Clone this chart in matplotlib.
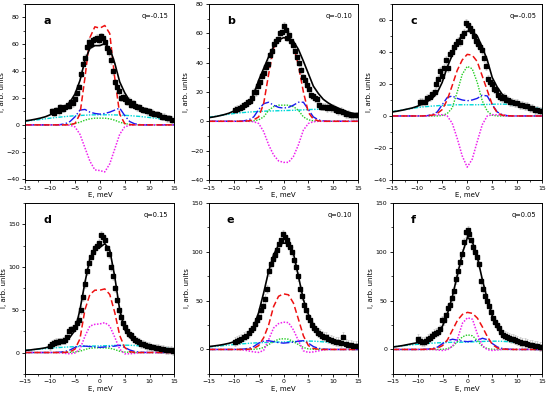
import numpy as np
import matplotlib.pyplot as plt
from matplotlib.ticker import AutoMinorLocator

# energy grid for the fitted curves (meV)
E = list(range(-15, 16))

# ---- panel a, q=-0.15
pts_x_a = [-9.7, -9.3, -8.8, -8.3, -8.0, -7.5, -7.0, -6.5, -6.2, -5.8, -5.4, -5.0, -4.6, -4.2, -3.8, -3.4, -3.0, -2.6,
           -2.2, -1.8, -1.4, -1.0, -0.6, -0.2, 0.2, 0.6, 1.0, 1.4, 1.8, 2.2, 2.6, 3.0, 3.4, 3.8, 4.2, 4.6, 5.0, 5.4,
           5.8, 6.2, 6.6, 7.0, 7.4, 7.8, 8.2, 8.6, 9.0, 9.4, 9.8, 10.2, 10.6, 11.0, 11.5, 12.0, 12.5, 13.0, 13.5,
           14.0, 14.5]
pts_y_a = [10, 9, 11, 10, 13, 12, 13, 15, 14, 17, 16, 19, 24, 28, 38, 45, 50, 58,
           62, 60, 63, 64, 65, 63, 66, 65, 62, 57, 54, 48, 40, 32, 28, 25, 20, 21, 19, 17,
           18, 15, 16, 14, 13, 13, 12, 11, 11, 10, 10, 9, 9, 8, 8, 7, 6, 6, 5,
           5, 4]
total_a = [3, 3.5, 4.2, 5, 6, 7.5, 9, 11, 13.5, 17, 23, 33, 48, 57, 59, 59, 60.5, 57, 46, 32, 24, 18, 14.5, 12, 10,
           8.5, 7, 6, 5, 4.5, 4]
red_a = [0, 0, 0, 0, 0, 0, 0, 0, 0, 0.2, 1, 8, 35, 65, 73, 72, 74, 68, 35, 8, 1, 0.2, 0, 0, 0, 0, 0, 0, 0, 0, 0]
blue_a = [0, 0, 0, 0, 0, 0, 0, 0.2, 0.8, 2.5, 6, 11, 11.5, 9.5, 8.5, 8, 8.5, 9.5, 11, 12.5, 7, 2.5, 0.8, 0.2, 0, 0,
          0, 0, 0, 0, 0]
green_a = [0, 0, 0, 0, 0, 0, 0, 0, 0.1, 0.4, 1, 2, 3.5, 4.5, 5, 5, 5, 4.5, 3.5, 2, 1, 0.4, 0.1, 0, 0, 0, 0, 0, 0, 0, 0]
cyan_a = [2.8, 3.2, 3.6, 4, 4.5, 5, 5.4, 5.8, 6.2, 6.5, 6.8, 7, 7.2, 7.4, 7.5, 7.5, 7.5, 7.5, 7.4, 7.3, 7.1, 6.9,
          6.6, 6.3, 5.9, 5.5, 5, 4.6, 4.2, 3.8, 3.5]
magenta_a = [0, 0, 0, 0, 0, 0, 0, 0, 0, -0.3, -1.5, -7, -17, -27, -33.5, -34, -35, -29, -18, -7, -1.5, -0.3, 0, 0,
             0, 0, 0, 0, 0, 0, 0]

# ---- panel b, q=-0.10
pts_x_b = [-9.7, -9.3, -8.8, -8.4, -8.0, -7.6, -7.2, -6.8, -6.4, -6.0, -5.6, -5.2, -4.8, -4.4, -4.0, -3.6, -3.2, -2.8,
           -2.4, -2.0, -1.6, -1.2, -0.8, -0.4, 0.0, 0.4, 0.8, 1.2, 1.6, 2.0, 2.4, 2.8, 3.2, 3.6, 4.0, 4.4, 4.8, 5.2,
           5.6, 6.0, 6.4, 6.8, 7.2, 7.6, 8.0, 8.4, 8.8, 9.2, 9.6, 10.0, 10.5, 11.0, 11.5, 12.0, 12.5, 13.0, 13.5,
           14.0, 14.5, 15.0]
pts_y_b = [8, 8.5, 9, 10, 11, 12, 13, 14, 16, 20, 20, 24, 27, 31, 33, 37, 39, 45,
           48, 53, 55, 56, 60, 61, 65, 62, 57, 59, 55, 52, 48, 44, 40, 35, 30, 28, 25, 22,
           18, 17, 16, 15, 11, 10, 10, 10, 9, 10, 9, 9, 8, 7, 7, 6, 5, 5, 4,
           4, 4, 4]
total_b = [2.5, 3, 3.7, 4.5, 5.5, 7, 8, 9.5, 13, 18.5, 28, 36, 44, 51, 55.5, 57, 57, 54.5, 49, 41, 32.5, 24, 19, 15,
           12.5, 10.5, 9, 7.5, 6.3, 5.3, 4.5]
red_b = [0, 0, 0, 0, 0, 0, 0, 0, 0.3, 1, 3, 12, 32, 50, 56, 57, 56.5, 52, 38, 20, 6, 1.5, 0.3, 0, 0, 0, 0, 0, 0, 0, 0]
blue_b = [0, 0, 0, 0, 0, 0, 0, 0.3, 1, 3, 8, 12, 13, 11, 9.5, 9, 9.5, 11, 13, 13, 8, 3, 1, 0.3, 0, 0, 0, 0, 0, 0, 0]
green_b = [0, 0, 0, 0, 0, 0, 0, 0, 0, 0.3, 1, 3, 7.5, 10, 11, 11, 11, 10, 7.5, 3, 1, 0.3, 0, 0, 0, 0, 0, 0, 0, 0, 0]
cyan_b = [2.8, 3.3, 3.8, 4.3, 4.8, 5.3, 5.7, 6, 6.3, 6.5, 6.7, 6.9, 7, 7.1, 7.2, 7.3, 7.4, 7.5, 7.6, 7.8, 8, 8.1,
          8.2, 8.2, 8, 7.6, 7, 6.4, 5.8, 5.2, 4.6]
magenta_b = [0, 0, 0, 0, 0, 0, 0, 0, 0, -0.3, -1.5, -7, -16, -23, -27, -28, -28, -24, -16, -6, -1.5, -0.3, 0, 0, 0,
             0, 0, 0, 0, 0, 0]

# ---- panel c, q=-0.05
pts_x_c = [-9.5, -9.0, -8.5, -8.0, -7.5, -7.0, -6.5, -6.2, -5.8, -5.4, -5.0, -4.6, -4.2, -3.8, -3.4, -3.0, -2.6, -2.2,
           -1.8, -1.4, -1.0, -0.6, -0.2, 0.2, 0.6, 1.0, 1.4, 1.8, 2.2, 2.6, 3.0, 3.4, 3.8, 4.2, 4.6, 5.0, 5.4, 5.8,
           6.2, 6.6, 7.0, 7.4, 7.8, 8.2, 8.6, 9.0, 9.5, 10.0, 10.5, 11.0, 11.5, 12.0, 12.5, 13.0, 13.5, 14.0, 14.5,
           15.0]
pts_y_c = [9, 8.5, 9, 11, 12, 14, 15, 20, 23, 28, 25, 30, 35, 30, 39, 40, 43, 45,
           47, 46, 50, 52, 58, 57, 55, 53, 50, 47, 45, 43, 41, 36, 31, 23, 21, 20, 17, 16,
           13, 12, 11, 12, 10, 10, 9, 9, 8, 8, 7, 7, 6, 6, 5, 5, 4, 4, 3,
           3]
total_c = [2.5, 3, 3.6, 4.3, 5, 6, 7.5, 9, 11, 14.5, 21, 30.5, 38, 45.5, 51, 53, 52.5, 50, 43, 35, 24, 18, 13.5, 11,
           9.5, 8, 7, 6, 5, 4, 3]
red_c = [0, 0, 0, 0, 0, 0, 0, 0.2, 0.5, 1.5, 4, 10, 19, 28.5, 35, 38.5, 38, 34, 25, 16, 7, 2, 0.5, 0.2, 0, 0, 0, 0,
         0, 0, 0]
blue_c = [0, 0, 0, 0, 0, 0, 0, 0.2, 0.8, 2.5, 7, 11.5, 12.5, 11, 10, 9.5, 10, 11, 13, 12.5, 7, 2.5, 0.8, 0.2, 0, 0,
          0, 0, 0, 0, 0]
green_c = [0, 0, 0, 0, 0, 0, 0, 0, 0, 0, 0.3, 1.5, 5, 15, 26, 31, 29.5, 21, 9.5, 3, 0.5, 0, 0, 0, 0, 0, 0, 0, 0, 0, 0]
cyan_c = [2.7, 3.2, 3.7, 4.2, 4.7, 5.2, 5.6, 5.9, 6.2, 6.4, 6.6, 6.8, 6.9, 7, 7, 7, 7, 7, 7.1, 7.2, 7.3, 7.4, 7.4,
          7.3, 7.1, 6.8, 6.4, 5.9, 5.3, 4.8, 4.2]
magenta_c = [0, 0, 0, 0, 0, 0, 0, 0, 0.3, 0.7, 0.8, 0, -4.5, -14, -25, -32, -27, -16, -5.5, 0, 0.8, 0.7, 0.3, 0, 0,
             0, 0, 0, 0, 0, 0]

# ---- panel d, q=0.15
pts_x_d = [-10.0, -9.6, -9.2, -8.8, -8.4, -8.0, -7.5, -7.0, -6.6, -6.2, -5.8, -5.4, -5.0, -4.6, -4.2, -3.8, -3.4, -3.0,
           -2.6, -2.2, -1.8, -1.4, -1.0, -0.6, -0.2, 0.2, 0.6, 1.0, 1.4, 1.8, 2.2, 2.6, 3.0, 3.4, 3.8, 4.2, 4.6,
           5.0, 5.4, 5.8, 6.2, 6.6, 7.0, 7.4, 7.8, 8.2, 8.6, 9.0, 9.4, 9.8, 10.3, 10.8, 11.3, 11.8, 12.3, 12.8,
           13.3, 13.8, 14.3, 14.8]
pts_y_d = [8, 10, 11, 12, 12, 13, 14, 15, 18, 25, 27, 28, 30, 34, 38, 50, 65, 80,
           95, 105, 112, 118, 122, 125, 128, 138, 135, 132, 122, 115, 100, 90, 75, 62, 50, 42, 35,
           30, 25, 22, 20, 17, 15, 14, 12, 10, 10, 9, 8, 8, 6, 6, 5, 5, 4, 4,
           3, 3, 3, 2]
total_d = [2.5, 3, 3.8, 4.5, 5.5, 7, 8.5, 10.5, 13, 18, 26, 50, 82, 110, 122, 123, 127.5, 120, 89, 50, 27, 18, 13,
           10.5, 9, 7.5, 6.5, 5.5, 4.5, 3.5, 3]
red_d = [0, 0, 0, 0, 0, 0, 0, 0, 0.2, 0.8, 4, 16, 50, 68, 73, 73, 74.5, 68, 47, 20, 6, 1, 0.2, 0, 0, 0, 0, 0, 0, 0,
         0]
blue_d = [0, 0, 0, 0, 0, 0, 0.1, 0.4, 1.2, 3, 6, 8, 7.5, 7, 6.5, 6, 6.5, 7, 7.5, 8.5, 6, 3, 1.2, 0.4, 0.1, 0, 0, 0,
          0, 0, 0]
green_d = [0, 0, 0, 0, 0, 0, 0, 0, 0, 0.2, 0.6, 1.5, 3.5, 5, 5.5, 5.5, 5.5, 5, 3.5, 1.5, 0.6, 0.2, 0, 0, 0, 0, 0, 0,
           0, 0, 0]
cyan_d = [2.5, 3, 3.5, 4, 4.5, 5, 5.5, 5.9, 6.3, 6.6, 6.9, 7.1, 7.3, 7.5, 7.6, 7.7, 7.9, 8.1, 8.3, 8.5, 8.6, 8.5,
          8.2, 7.8, 7.3, 6.8, 6.2, 5.6, 5.1, 4.6, 4.2]
magenta_d = [0, 0, 0, 0, 0, 0, 0, -0.3, -1, -1.5, -0.5, 4, 19, 31, 33, 33.5, 35, 31, 18, 4, -1.5, -1.5, -1, -0.3, 0,
             0, 0, 0, 0, 0, 0]

# ---- panel e, q=0.10
pts_x_e = [-9.8, -9.4, -9.0, -8.5, -8.0, -7.5, -7.0, -6.6, -6.2, -5.8, -5.4, -5.0, -4.6, -4.2, -3.8, -3.4, -3.0, -2.6,
           -2.2, -1.8, -1.4, -1.0, -0.6, -0.2, 0.2, 0.6, 1.0, 1.4, 1.8, 2.2, 2.6, 3.0, 3.4, 3.8, 4.2, 4.6, 5.0, 5.4,
           5.8, 6.2, 6.6, 7.0, 7.4, 7.8, 8.2, 8.6, 9.0, 9.5, 10.0, 10.5, 11.0, 11.5, 12.0, 12.5, 13.0, 13.5, 14.0,
           14.5, 15.0]
pts_y_e = [8, 9, 10, 11, 13, 14, 17, 20, 22, 26, 30, 33, 40, 45, 52, 62, 80, 88,
           93, 97, 102, 108, 112, 118, 115, 112, 108, 105, 100, 92, 85, 75, 62, 55, 46, 40, 33, 30,
           25, 22, 20, 17, 16, 14, 13, 13, 11, 10, 9, 8, 8, 7, 13, 6, 5, 5, 4,
           4, 4]
total_e = [3, 3.6, 4.3, 5.2, 6.3, 7.8, 9.5, 12, 16, 23, 38, 58, 80, 97, 107, 109, 108.5, 98.5, 75, 51, 36, 25.5, 19,
           14, 11.5, 9.5, 8, 7, 6, 5, 4]
red_e = [0, 0, 0, 0, 0, 0, 0, 0, 0.3, 1, 4, 12, 25, 44, 54.5, 57, 56, 47.5, 31, 14, 4, 1, 0.3, 0, 0, 0, 0, 0, 0, 0, 0]
blue_e = [0, 0, 0, 0, 0, 0, 0.1, 0.4, 1.2, 3, 6.5, 8.5, 9, 8, 7, 6.5, 7, 7.5, 8.5, 9, 6.5, 3, 1.2, 0.4, 0.1, 0, 0, 0,
          0, 0, 0]
green_e = [0, 0, 0, 0, 0, 0, 0, 0, 0, 0.2, 0.6, 2, 5, 8, 10.5, 11, 10.5, 8, 5, 2, 0.6, 0.2, 0, 0, 0, 0, 0, 0, 0, 0, 0]
cyan_e = [2.5, 3, 3.5, 4, 4.5, 5, 5.5, 5.9, 6.3, 6.6, 6.9, 7.1, 7.3, 7.5, 7.6, 7.7, 7.9, 8.1, 8.3, 8.5, 8.6, 8.5,
          8.2, 7.8, 7.3, 6.8, 6.2, 5.6, 5.1, 4.6, 4.2]
magenta_e = [0, 0, 0, 0, 0, 0, 0, -0.5, -1.5, -2.5, -3, -1, 10, 22, 26.5, 28, 27.5, 20, 9, -1.4, -3, -2.5, -1.5,
             -0.5, 0, 0, 0, 0, 0, 0, 0]

# ---- panel f, q=0.05
pts_x_f = [-10.0, -9.6, -9.2, -8.8, -8.4, -8.0, -7.6, -7.2, -6.8, -6.4, -6.0, -5.6, -5.2, -4.8, -4.4, -4.0, -3.6, -3.2,
           -2.8, -2.4, -2.0, -1.6, -1.2, -0.8, -0.4, 0.0, 0.4, 0.8, 1.2, 1.6, 2.0, 2.4, 2.8, 3.2, 3.6, 4.0, 4.4,
           4.8, 5.2, 5.6, 6.0, 6.4, 6.8, 7.2, 7.6, 8.0, 8.4, 8.8, 9.2, 9.6, 10.0, 10.5, 11.0, 11.5, 12.0, 12.5,
           13.0, 13.5, 14.0, 14.5, 15.0]
pts_y_f = [11, 9, 8, 8, 9, 11, 12, 14, 16, 17, 18, 21, 30, 30, 35, 42, 46, 53,
           60, 72, 80, 90, 98, 110, 120, 122, 118, 112, 105, 100, 95, 88, 70, 62, 55, 50, 45,
           38, 32, 28, 25, 22, 18, 15, 14, 13, 12, 11, 11, 10, 9, 8, 7, 7, 6, 5,
           5, 4, 4, 3, 3]
total_f = [2.5, 3.2, 4, 5, 6, 7, 8.5, 10, 13, 17, 24, 37, 55, 77, 99, 115, 110, 94, 71, 51, 34, 22, 15.5, 12, 10, 8,
           7, 6, 5, 3.5, 2.5]
red_f = [0, 0, 0, 0, 0, 0, 0, 0.2, 0.5, 1.5, 4, 10, 20, 30, 36, 38, 37, 32, 23, 13, 5, 1.5, 0.5, 0.2, 0, 0, 0, 0, 0,
         0, 0]
blue_f = [0, 0, 0, 0, 0, 0, 0.1, 0.3, 1, 2.5, 6, 9, 10.5, 9.5, 8.5, 8, 8.5, 9.5, 11.5, 10, 6, 2.5, 1, 0.3, 0.1, 0, 0,
          0, 0, 0, 0]
green_f = [0, 0, 0, 0, 0, 0, 0, 0, 0, 0, 0.2, 0.8, 3, 8, 13, 15, 14, 9, 3, 0.8, 0.2, 0, 0, 0, 0, 0, 0, 0, 0, 0, 0]
cyan_f = [2.7, 3.2, 3.8, 4.3, 4.8, 5.3, 5.8, 6.2, 6.5, 6.8, 7, 7.2, 7.3, 7.4, 7.5, 7.6, 7.8, 8, 8.2, 8.4, 8.5, 8.5,
          8.3, 8, 7.6, 7.1, 6.5, 5.8, 5, 4.2, 3.5]
magenta_f = [0, 0, 0, 0, 0, 0, 0, 0, 0, -0.5, -1, -0.3, 3.5, 11, 27, 32.5, 31, 15.5, 3.7, -0.3, -1, -0.5, 0, 0, 0, 0,
             0, 0, 0, 0, 0]

letters = ['a', 'b', 'c', 'd', 'e', 'f']
q_labels = ['q=-0.15', 'q=-0.10', 'q=-0.05', 'q=0.15', 'q=0.10', 'q=0.05']
y_limits = [(-41, 90), (-40, 80), (-40, 70), (-25, 175), (-25, 150), (-25, 150)]
y_ticks = [range(-40, 81, 20), range(-40, 81, 20), range(-40, 61, 20),
           range(0, 151, 50), range(0, 151, 50), range(0, 151, 50)]

panels = [
    (pts_x_a, pts_y_a, total_a, red_a, blue_a, green_a, cyan_a, magenta_a),
    (pts_x_b, pts_y_b, total_b, red_b, blue_b, green_b, cyan_b, magenta_b),
    (pts_x_c, pts_y_c, total_c, red_c, blue_c, green_c, cyan_c, magenta_c),
    (pts_x_d, pts_y_d, total_d, red_d, blue_d, green_d, cyan_d, magenta_d),
    (pts_x_e, pts_y_e, total_e, red_e, blue_e, green_e, cyan_e, magenta_e),
    (pts_x_f, pts_y_f, total_f, red_f, blue_f, green_f, cyan_f, magenta_f),
]

# axes boxes in figure fractions [left, bottom, width, height]
boxes = [
    [0.046, 0.549, 0.271, 0.441], [0.380, 0.549, 0.271, 0.441], [0.713, 0.549, 0.273, 0.441],
    [0.046, 0.063, 0.271, 0.428], [0.380, 0.063, 0.271, 0.428], [0.714, 0.063, 0.272, 0.428],
]

fig = plt.figure(figsize=(5.5, 3.99), dpi=100)

for i, (px, py, tot, red, blue, green, cyan, mag) in enumerate(panels):
    ax = fig.add_axes(boxes[i])
    err = 2.5 if i < 3 else 4.5
    ax.errorbar(px, py, yerr=err, fmt='none', ecolor='#c8c8c8', elinewidth=0.6, capsize=1, capthick=0.5, zorder=1)
    ax.plot(px, py, 's', color='black', markersize=2.6, zorder=3)
    ax.plot(E, cyan, color='#00d8d8', linestyle=(0, (3, 1, 1, 1, 1, 1)), lw=1.0, zorder=2)
    ax.plot(E, green, color='#22cc22', linestyle=(0, (1, 1)), lw=1.0, zorder=2)
    ax.plot(E, blue, color='#1a1aee', linestyle='-.', lw=1.0, zorder=2)
    ax.plot(E, mag, color='#ee22ee', linestyle=(0, (1, 1)), lw=1.1, zorder=2)
    ax.plot(E, red, color='#ee1111', linestyle=(0, (4, 2)), lw=1.1, zorder=2)
    ax.plot(E, tot, color='black', lw=1.2, zorder=4)

    ax.set_xlim(-15, 15)
    ax.set_ylim(*y_limits[i])
    ax.set_xticks(range(-15, 16, 5))
    ax.set_yticks(list(y_ticks[i]))
    ax.xaxis.set_minor_locator(AutoMinorLocator(2))
    ax.yaxis.set_minor_locator(AutoMinorLocator(2))
    ax.tick_params(which='major', direction='out', length=2.5, width=0.6, labelsize=4.5, pad=1.5,
                   top=False, right=False)
    ax.tick_params(which='minor', direction='out', length=1.5, width=0.5, top=False, right=False)
    for sp in ax.spines.values():
        sp.set_linewidth(0.7)
    ax.set_xlabel('E, meV', fontsize=5, labelpad=1)
    ax.set_ylabel('I, arb. units', fontsize=5, labelpad=1)
    ax.text(0.12, 0.93, letters[i], transform=ax.transAxes, fontsize=8, fontweight='bold', va='top')
    ax.text(0.96, 0.95, q_labels[i], transform=ax.transAxes, fontsize=4.8, ha='right', va='top')

fig.savefig('out.png', dpi=100)
